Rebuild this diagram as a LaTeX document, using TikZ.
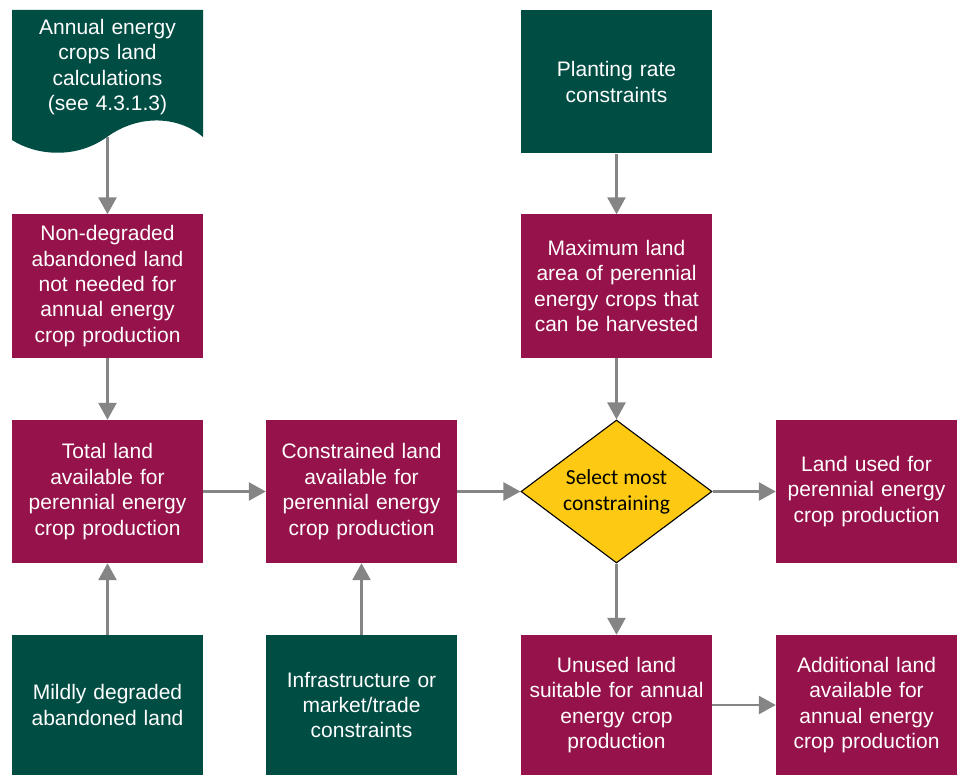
\documentclass[tikz,border=0pt]{standalone}
\usepackage{fontspec}
\setmainfont{Liberation Sans}
\newfontfamily\arialf{Liberation Sans}
\newfontfamily\calibri{Carlito}
\usetikzlibrary{shapes.geometric,arrows.meta}
\definecolor{dkgreen}{HTML}{004D44}
\definecolor{plum}{HTML}{96124A}
\definecolor{gold}{HTML}{FDC913}
\definecolor{arrgray}{HTML}{858585}
\begin{document}
\begin{tikzpicture}[x=1pt,y=-1pt,
 box/.style={draw=none, minimum width=191pt, minimum height=143pt, text width=189pt, align=center, text=white, font=\arialf\fontsize{21}{25.4}\selectfont, inner sep=0pt},
 greenbox/.style={box, fill=dkgreen},
 redbox/.style={box, fill=plum},
 arr/.style={draw=arrgray, line width=2.7pt, -{Triangle[length=17pt,width=18pt]}}]
\useasboundingbox (0,0) rectangle (957,775);
% document shape
\fill[dkgreen] (12,10) -- (203,10) -- (203,137)
  .. controls (180,117) and (140,113) .. (107,137)
  .. controls (75,160) and (35,155) .. (12,140) -- cycle;
\node[box, minimum height=0pt] (doc) at (107.5,67) {Annual energy\\crops land\\calculations\\(see 4.3.1.3)};
\coordinate (docb) at (107.5,137);
% row 1
\node[greenbox] (plant) at (616.5,82) {Planting rate\\constraints};
% row 2
\node[redbox] (nd) at (107.5,286) {Non-degraded\\abandoned land\\not needed for\\annual energy\\crop production};
\node[redbox] (maxl) at (616.5,286) {Maximum land\\area of perennial\\energy crops that\\can be harvested};
% row 3
\node[redbox] (total) at (107.5,491.5) {Total land\\available for\\perennial energy\\crop production};
\node[redbox] (constr) at (361.5,491.5) {Constrained land\\available for\\perennial energy\\crop production};
\node[draw=black, line width=1.1pt, fill=gold, diamond, minimum width=191pt, minimum height=143pt, aspect=1.336, inner sep=0pt, align=center, font=\calibri\fontsize{21.5}{26}\selectfont] (dia) at (616.5,491.5) {Select most\\constraining};
\node[redbox, minimum width=181pt, text width=179pt] (used) at (866.5,491.5) {Land used for\\perennial energy\\crop production};
% row 4
\node[greenbox, minimum height=140pt] (mild) at (107.5,705) {Mildly degraded\\abandoned land};
\node[greenbox, minimum height=140pt] (infra) at (361.5,705) {Infrastructure or\\market/trade\\constraints};
\node[redbox, minimum height=140pt] (unused) at (616.5,705) {Unused land\\suitable for annual\\energy crop\\production};
\node[redbox, minimum width=181pt, text width=179pt, minimum height=140pt] (addl) at (866.5,705) {Additional land\\available for\\annual energy\\crop production};
% arrows
\draw[arr] (docb) -- (nd.north);
\draw[arr] (nd.south) -- (total.north);
\draw[arr] (mild.north) -- (total.south);
\draw[arr] (total.east) -- (constr.west);
\draw[arr] (infra.north) -- (constr.south);
\draw[arr] (constr.east) -- (dia.west);
\draw[arr] (plant.south) -- (maxl.north);
\draw[arr] (maxl.south) -- (dia.north);
\draw[arr] (dia.east) -- (used.west);
\draw[arr] (dia.south) -- (unused.north);
\draw[arr] (unused.east) -- (addl.west);
\end{tikzpicture}
\end{document}
